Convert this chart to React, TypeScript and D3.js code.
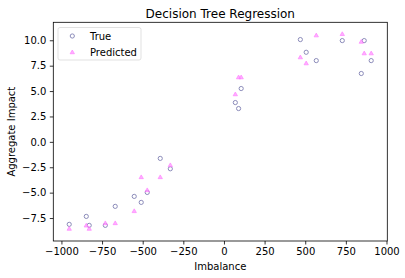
import React, { useEffect, useRef } from "react";
import * as d3 from "d3";

// imbalance values shared by both series
const imbalance = [-952, -847, -829, -730, -669, -552, -509, -472, -392, -330, 70, 90, 106, 470, 506, 568, 728, 845, 863, 906];
const trueImpact = [-8.12, -7.34, -8.22, -8.22, -6.35, -5.37, -5.96, -4.98, -1.63, -2.65, 3.87, 3.28, 5.25, 10.07, 8.82, 8.0, 9.97, 6.73, 9.97, 8.0];
const predictedImpact = [-8.58, -8.26, -8.58, -8.03, -8.03, -6.84, -3.5, -4.78, -3.5, -2.32, 4.66, 6.33, 6.33, 8.3, 7.71, 10.46, 10.59, 9.83, 8.69, 8.69];

const xTicks = [-1000, -750, -500, -250, 0, 250, 500, 750, 1000];
const yTicks = [-7.5, -5.0, -2.5, 0.0, 2.5, 5.0, 7.5, 10.0];
const seriesNames = ["True", "Predicted"];

const font = "'DejaVu Sans', sans-serif";
const minus = (s: string) => s.replace("-", "\u2212");

const App = () => {
  const ref = useRef<SVGSVGElement>(null);

  function draw() {
    const svg = d3.select(ref.current);
    svg.selectAll("*").remove();
    const width = 405;
    const height = 278;
    const left = 53.3;
    const right = 387.3;
    const top = 22.3;
    const bottom = 241;

    const x = d3.scaleLinear().domain([-1050, 1005]).range([left, right]);
    const y = d3.scaleLinear().domain([-9.76, 11.77]).range([bottom, top]);

    svg.attr("width", width).attr("height", height);
    svg.append("rect").attr("width", width).attr("height", height).attr("fill", "#fff");

    const styleAxis = (g: any) => {
      g.select(".domain").remove();
      g.selectAll(".tick line").attr("stroke", "#000").attr("stroke-width", 0.8);
      g.selectAll(".tick text").attr("fill", "#000").attr("font-size", 10).attr("font-family", font);
    };

    svg
      .append("g")
      .attr("transform", `translate(0,${bottom})`)
      .call(
        d3.axisBottom(x).tickValues(xTicks).tickSize(3.5).tickPadding(3.5)
          .tickFormat((d) => minus(String(d)))
      )
      .call(styleAxis);

    svg
      .append("g")
      .attr("transform", `translate(${left},0)`)
      .call(
        d3.axisLeft(y).tickValues(yTicks).tickSize(3.5).tickPadding(3.5)
          .tickFormat((d) => minus((d as number).toFixed(1)))
      )
      .call(styleAxis);

    // spines
    svg
      .append("rect")
      .attr("x", left)
      .attr("y", top)
      .attr("width", right - left)
      .attr("height", bottom - top)
      .attr("fill", "none")
      .attr("stroke", "#000")
      .attr("stroke-width", 0.8);

    const tri = d3.symbol().type(d3.symbolTriangle).size(8);
    const triFill = "#ff9cff";
    const triStroke = "#ff66ff";

    svg
      .append("g")
      .selectAll("circle")
      .data(imbalance)
      .join("circle")
      .attr("cx", (d) => x(d))
      .attr("cy", (d, i) => y(trueImpact[i]))
      .attr("r", 2.1)
      .attr("fill", "none")
      .attr("stroke", "#8c8cba")
      .attr("stroke-width", 1);

    svg
      .append("g")
      .selectAll("path")
      .data(imbalance)
      .join("path")
      .attr("d", tri)
      .attr("transform", (d, i) => `translate(${x(d)},${y(predictedImpact[i])})`)
      .attr("fill", triFill)
      .attr("stroke", triStroke)
      .attr("stroke-width", 0.7)
      .attr("opacity", 0.8);

    // legend
    const legend = svg.append("g");
    legend
      .append("rect")
      .attr("x", 58)
      .attr("y", 27.5)
      .attr("width", 83)
      .attr("height", 32.5)
      .attr("rx", 2)
      .attr("fill", "#fff")
      .attr("fill-opacity", 0.8)
      .attr("stroke", "#d9d9d9")
      .attr("stroke-width", 0.8);
    legend
      .append("circle")
      .attr("cx", 72.3)
      .attr("cy", 36)
      .attr("r", 2.1)
      .attr("fill", "none")
      .attr("stroke", "#8c8cba");
    legend
      .append("path")
      .attr("d", tri)
      .attr("transform", "translate(72.3,52.5)")
      .attr("fill", triFill)
      .attr("stroke", triStroke)
      .attr("stroke-width", 0.7)
      .attr("opacity", 0.8);
    legend
      .selectAll("text")
      .data(seriesNames)
      .join("text")
      .attr("x", 90)
      .attr("y", (d, i) => 39.5 + i * 16)
      .attr("font-family", font)
      .attr("font-size", 10)
      .text((d) => d);

    svg
      .append("text")
      .attr("x", (left + right) / 2)
      .attr("y", 17.5)
      .attr("text-anchor", "middle")
      .attr("font-family", font)
      .attr("font-size", 12)
      .text("Decision Tree Regression");

    svg
      .append("text")
      .attr("x", (left + right) / 2)
      .attr("y", 270)
      .attr("text-anchor", "middle")
      .attr("font-family", font)
      .attr("font-size", 10)
      .text("Imbalance");

    svg
      .append("text")
      .attr("transform", `translate(15,${(top + bottom) / 2}) rotate(-90)`)
      .attr("text-anchor", "middle")
      .attr("font-family", font)
      .attr("font-size", 10)
      .text("Aggregate Impact");
  }

  useEffect(() => {
    draw();
  }, []);

  return <svg ref={ref} style={{ position: "absolute", left: 0, top: 0, display: "block" }} />;
};

export default App;
